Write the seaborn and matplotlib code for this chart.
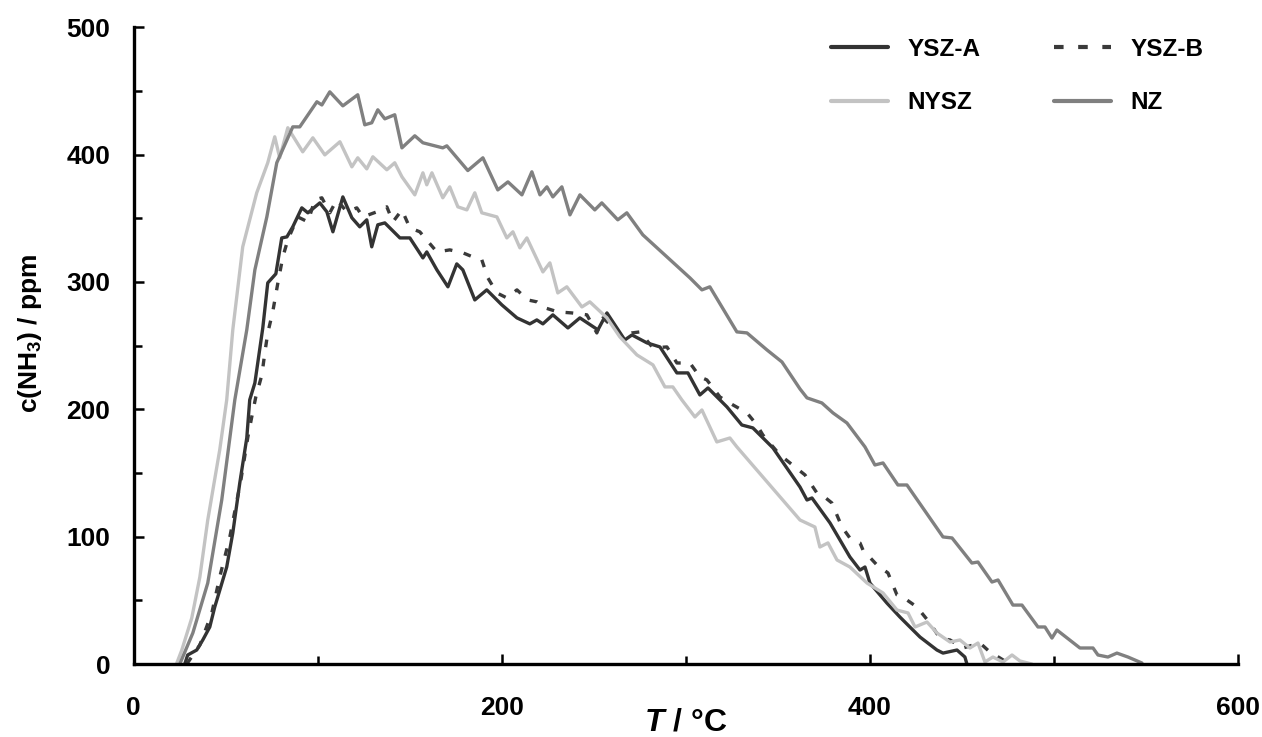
import numpy as np
import pandas as pd
import matplotlib
matplotlib.use("Agg")
import matplotlib.pyplot as plt
import seaborn as sns

# ---------------- data ----------------
ysza_T = [27.7, 29.3, 34.2, 37.5, 41.3, 44.0, 50.5, 53.8, 57.6, 61.4, 63.0, 65.8, 70.1, 72.8, 77.2,
          80.4, 83.2, 86.4, 91.3, 94.6, 101.1, 104.9, 108.2, 113.6, 118.5, 122.8, 126.6, 129.3, 132.6,
          136.4, 144.6, 150.0, 157.1, 159.2, 164.7, 170.7, 175.5, 178.8, 185.3, 191.8, 200.0, 208.2,
          215.2, 219.0, 222.3, 227.7, 235.9, 242.4, 252.2, 257.1, 261.4, 266.8, 270.7, 278.8, 285.9,
          295.1, 301.1, 307.6, 312.0, 322.3, 330.4, 336.4, 347.3, 362.0, 365.8, 368.5, 378.3, 389.1,
          394.6, 397.3, 400.0, 409.2, 416.3, 421.7, 427.2, 436.4, 439.7, 447.3, 451.6, 452.7]
ysza_c = [0, 7.1, 11.0, 18.9, 29.1, 44.8, 76.2, 102.9, 142.2, 177.5, 207.4, 220.7, 263.9, 299.3, 306.4,
          334.6, 335.4, 343.3, 358.2, 354.3, 362.1, 355.1, 339.4, 366.8, 350.4, 343.3, 348.8, 327.6, 344.9,
          346.4, 334.6, 334.6, 318.9, 323.6, 309.5, 296.2, 314.2, 309.5, 285.9, 293.8, 282.0, 271.8,
          267.1, 270.2, 267.1, 274.2, 263.9, 271.8, 262.4, 275.7, 266.3, 254.5, 258.4, 252.2, 249.0,
          228.6, 228.6, 211.3, 216.8, 201.9, 187.7, 185.4, 169.7, 139.0, 128.8, 130.4, 110.8, 84.1,
          73.8, 76.2, 63.6, 47.9, 36.9, 29.1, 21.2, 11.0, 8.6, 11.0, 5.5, 0]

yszb_T = [28.8, 35.9, 42.4, 46.7, 52.2, 58.2, 62.0, 64.1, 66.3, 69.6, 71.2, 72.8, 75.5, 78.3, 81.0,
          83.7, 89.1, 94.6, 98.4, 102.2, 106.5, 110.3, 115.8, 121.2, 124.5, 132.1, 137.5, 140.8, 145.7,
          150.0, 155.4, 164.7, 171.7, 178.8, 184.2, 189.1, 192.4, 197.3, 202.7, 208.2, 214.1, 219.0,
          223.4, 230.4, 238.0, 246.2, 251.6, 254.9, 260.3, 265.8, 270.7, 275.0, 282.1, 289.7, 295.1,
          302.2, 307.6, 311.4, 318.5, 325.5, 333.2, 338.6, 341.8, 351.1, 364.7, 371.2, 373.9, 379.3,
          384.8, 389.1, 394.6, 396.2, 403.8, 409.8, 414.7, 420.1, 425.5, 432.6, 438.0, 443.5, 450.5,
          459.8, 465.2, 470.7, 475.0]
yszb_c = [0, 14.9, 40.1, 68.3, 99.8, 144.5, 178.3, 194.0, 209.7, 227.0, 244.3, 260.0, 276.5, 299.3, 319.7,
          333.1, 351.1, 347.2, 364.5, 366.1, 354.3, 364.5, 355.1, 358.2, 351.1, 355.1, 359.0, 347.2, 356.6,
          342.5, 339.4, 323.6, 325.2, 322.9, 319.7, 317.4, 303.2, 291.4, 287.5, 293.8, 285.9, 284.4,
          279.7, 276.5, 275.7, 274.2, 260.0, 271.8, 264.7, 256.1, 260.0, 260.8, 248.2, 249.0, 236.4,
          236.4, 225.5, 223.1, 209.7, 203.5, 197.2, 187.7, 179.9, 164.2, 148.5, 134.3, 132.8, 126.5,
          107.6, 99.0, 95.1, 89.6, 77.8, 71.5, 54.2, 50.3, 44.8, 32.2, 20.4, 18.9, 12.6,
          16.5, 9.4, 4.7, 0.8]

nysz_T = [23.4, 26.1, 31.5, 35.9, 40.2, 46.7, 50.5, 53.8, 59.2, 66.8, 72.8, 76.6, 79.3, 83.7, 91.8,
          97.3, 103.8, 112.0, 118.5, 121.7, 126.6, 129.9, 137.5, 141.8, 145.7, 152.7, 157.1, 159.2,
          162.0, 167.9, 171.7, 176.1, 181.0, 185.3, 189.1, 197.3, 202.7, 206.0, 209.8, 213.6, 222.3,
          226.1, 230.4, 235.3, 243.5, 247.8, 257.1, 264.1, 273.4, 282.1, 288.6, 292.9, 297.8, 304.9,
          308.7, 316.8, 323.9, 327.7, 362.0, 370.1, 372.8, 377.2, 382.1, 389.1, 398.4, 407.1, 414.7,
          420.7, 424.5, 431.0, 436.4, 443.5, 448.9, 454.3, 458.7, 462.5, 466.8, 472.3, 477.2, 481.5,
          488.0]
nysz_c = [0.8, 11.0, 36.1, 68.3, 113.1, 168.1, 207.4, 262.4, 327.6, 370.0, 393.6, 414.0, 397.5, 421.1, 402.2,
          413.2, 399.8, 410.1, 390.4, 397.5, 388.8, 398.3, 388.1, 393.6, 382.6, 368.4, 385.7, 376.3,
          385.7, 366.1, 374.7, 359.0, 356.6, 370.0, 354.3, 351.1, 334.6, 339.4, 326.8, 334.6, 307.9,
          315.0, 291.4, 296.2, 280.4, 284.4, 271.8, 256.9, 242.7, 234.9, 217.6, 217.6, 207.4, 194.0,
          199.5, 174.4, 177.5, 170.5, 113.1, 107.6, 91.9, 95.1, 81.7, 76.2, 63.6, 55.8, 42.4,
          40.1, 29.1, 33.0, 24.4, 17.3, 18.9, 12.6, 16.5, 1.6, 5.5, 1.6, 7.1, 2.4,
          0]

nz_T = [25.0, 32.1, 40.2, 47.8, 54.9, 61.4, 65.8, 72.3, 77.7, 86.4, 90.2, 99.5, 102.2, 106.5, 113.6,
        121.7, 125.5, 129.3, 132.6, 136.4, 141.8, 145.7, 152.7, 157.1, 167.9, 170.1, 181.5, 189.7,
        197.8, 203.3, 210.9, 216.3, 220.7, 224.5, 227.7, 232.6, 237.0, 242.4, 250.5, 254.3, 263.0,
        267.9, 276.6, 289.7, 302.2, 308.7, 313.0, 327.7, 333.2, 344.0, 352.2, 362.0, 365.8, 373.9,
        379.9, 387.5, 397.3, 402.7, 407.1, 415.2, 420.1, 439.7, 444.6, 455.4, 458.7, 466.3, 469.6,
        477.7, 482.6, 491.3, 495.1, 498.9, 501.6, 514.1, 521.2, 523.9, 529.3, 534.2, 540.2, 547.8]
nz_c = [0, 24.4, 63.6, 128.8, 207.4, 262.4, 309.5, 351.1, 393.6, 421.8, 421.8, 441.5, 439.0, 449.3, 438.3,
        447.0, 423.4, 425.0, 435.2, 428.1, 431.3, 405.3, 414.8, 409.3, 405.3, 406.9, 387.5, 397.5,
        372.3, 378.6, 368.4, 386.5, 368.4, 374.7, 366.8, 374.7, 352.7, 368.4, 356.6, 362.1, 348.8,
        354.3, 337.0, 319.7, 303.2, 293.8, 296.2, 260.8, 260.0, 246.7, 237.2, 216.0, 209.0, 205.0,
        197.2, 189.3, 170.5, 156.3, 157.9, 140.6, 140.6, 99.8, 99.0, 79.3, 80.1, 64.4, 66.0,
        46.3, 46.3, 29.1, 29.1, 20.4, 26.7, 12.6, 12.6, 7.1, 5.5, 8.6, 5.5, 0.8]

series_names = ["YSZ-A", "YSZ-B", "NYSZ", "NZ"]
x_ticks = [0, 200, 400, 600]
y_ticks = [0, 100, 200, 300, 400, 500]

# ---------------- styling ----------------
sns.set_style("ticks")
plt.rcParams["font.family"] = ["Liberation Sans", "DejaVu Sans"]
plt.rcParams["font.weight"] = "bold"
plt.rcParams["text.color"] = "black"
plt.rcParams["mathtext.fontset"] = "custom"
plt.rcParams["mathtext.rm"] = "Liberation Sans:bold"
plt.rcParams["mathtext.it"] = "Liberation Sans:italic:bold"
plt.rcParams["mathtext.bf"] = "Liberation Sans:bold"

frames = []
for name, T, c in zip(series_names,
                      [ysza_T, yszb_T, nysz_T, nz_T],
                      [ysza_c, yszb_c, nysz_c, nz_c]):
    frames.append(pd.DataFrame({"T": T, "c": c, "sample": name}))
df = pd.concat(frames, ignore_index=True)

palette = {"YSZ-A": "#333333", "YSZ-B": "#3a3a3a", "NYSZ": "#c3c3c3", "NZ": "#808080"}
dashes = {"YSZ-A": "", "YSZ-B": (2.3, 3.5), "NYSZ": "", "NZ": ""}

fig = plt.figure(figsize=(12.62, 7.37), dpi=100)
ax = fig.add_axes([0.106, 0.099, 0.875, 0.864])

sns.lineplot(data=df, x="T", y="c", hue="sample", style="sample",
             hue_order=series_names, style_order=series_names,
             palette=palette, dashes=dashes, sort=False, estimator=None,
             linewidth=2.4, ax=ax)

ax.set_xlim(0, 600)
ax.set_ylim(0, 500)
ax.set_xticks(x_ticks)
ax.set_yticks(y_ticks)
ax.set_xticks([100, 300, 500], minor=True)
ax.set_yticks([50, 150, 250, 350, 450], minor=True)
ax.set_xticklabels([str(v) for v in x_ticks], fontsize=19, fontweight="bold", color="black")
ax.set_yticklabels([str(v) for v in y_ticks], fontsize=19, fontweight="bold", color="black")

for s in ["top", "right"]:
    ax.spines[s].set_visible(False)
for s in ["left", "bottom"]:
    ax.spines[s].set_linewidth(2.4)
    ax.spines[s].set_color("black")

ax.tick_params(axis="both", which="major", direction="in", length=7, width=1.8, color="black",
               labelcolor="black")
ax.tick_params(axis="both", which="minor", direction="in", length=6, width=1.8, color="black")
ax.tick_params(axis="x", which="major", pad=23)
ax.tick_params(axis="y", which="major", pad=17)

ax.set_xlabel(r"$T$ / °C", fontsize=23, fontweight="bold", color="black")
ax.xaxis.set_label_coords(0.5, -0.068)
ax.set_ylabel(r"c(NH$_{\mathbf{3}}$) / ppm", fontsize=19, fontweight="bold", color="black")
ax.yaxis.set_label_coords(-0.081, 0.52)

handles, labels = ax.get_legend_handles_labels()
lookup = dict(zip(labels, handles))
order = ["YSZ-A", "NYSZ", "YSZ-B", "NZ"]  # column-wise fill -> rows: YSZ-A/YSZ-B, NYSZ/NZ
leg = ax.legend([lookup[k] for k in order], order, ncol=2, frameon=False,
                loc="upper left", bbox_to_anchor=(0.651, 0.962),
                bbox_transform=fig.transFigure, borderaxespad=0,
                prop={"family": "Liberation Sans", "weight": "bold", "size": 17.5},
                handlelength=2.35, handletextpad=0.8, columnspacing=3.0,
                labelspacing=1.25)
for line in leg.get_lines():
    line.set_linewidth(3)
for t in leg.get_texts():
    t.set_color("black")

fig.savefig("out.png", dpi=100)
